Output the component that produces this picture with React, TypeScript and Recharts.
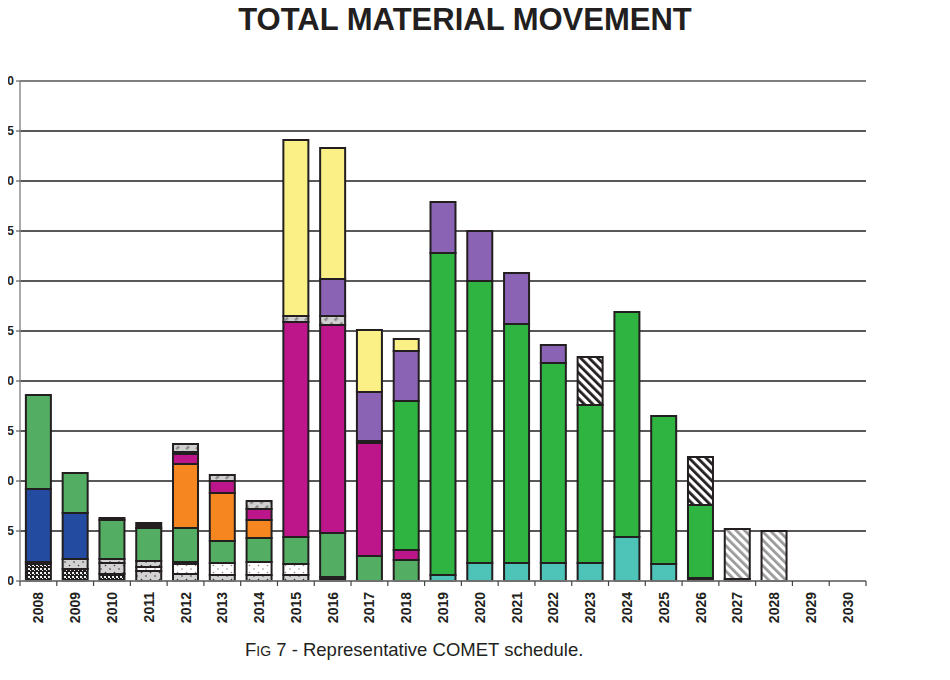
import React from 'react';
import { BarChart, Bar, XAxis, YAxis, CartesianGrid, ReferenceLine } from 'recharts';

const years = [
  '2008', '2009', '2010', '2011', '2012', '2013', '2014', '2015', '2016', '2017', '2018', '2019',
  '2020', '2021', '2022', '2023', '2024', '2025', '2026', '2027', '2028', '2029', '2030',
];

// stack segments, bottom to top, one value per year
const darkLow = [0, 0, 0, 0, 0, 0, 0, 0, 0.4, 0, 0, 0, 0, 0, 0, 0, 0, 0, 0.3, 0.2, 0, 0, 0];
const checker = [1.7, 1.2, 0.7, 0, 0, 0, 0, 0, 0, 0, 0, 0, 0, 0, 0, 0, 0, 0, 0, 0, 0, 0, 0];
const grayA = [0, 1.0, 1.1, 1.0, 0.7, 0.6, 0.6, 0.6, 0, 0, 0, 0, 0, 0, 0, 0, 0, 0, 0, 0, 0, 0, 0];
const whiteDots = [0, 0, 0, 0.4, 1.0, 1.2, 1.3, 1.1, 0, 0, 0, 0, 0, 0, 0, 0, 0, 0, 0, 0, 0, 0, 0];
const grayC = [0.2, 0, 0.4, 0.6, 0.2, 0, 0, 0, 0, 0, 0, 0, 0, 0, 0, 0, 0, 0, 0, 0, 0, 0, 0];
const teal = [0, 0, 0, 0, 0, 0, 0, 0, 0, 0, 0, 0.6, 1.8, 1.8, 1.8, 1.8, 4.4, 1.7, 0, 0, 0, 0, 0];
const blue = [7.3, 4.6, 0, 0, 0, 0, 0, 0, 0, 0, 0, 0, 0, 0, 0, 0, 0, 0, 0, 0, 0, 0, 0];
const midGreen = [9.4, 4.0, 3.9, 3.3, 3.4, 2.2, 2.4, 2.7, 4.4, 2.5, 2.1, 0, 0, 0, 0, 0, 0, 0, 0, 0, 0, 0, 0];
const orange = [0, 0, 0, 0, 6.4, 4.8, 1.8, 0, 0, 0, 0, 0, 0, 0, 0, 0, 0, 0, 0, 0, 0, 0, 0];
const magenta = [0, 0, 0, 0, 1.0, 1.2, 1.1, 21.5, 20.8, 11.3, 1.0, 0, 0, 0, 0, 0, 0, 0, 0, 0, 0, 0, 0];
const darkMid = [0, 0, 0.2, 0.5, 0.2, 0, 0, 0, 0, 0.2, 0, 0, 0, 0, 0, 0, 0, 0, 0, 0, 0, 0, 0];
const grayHatch = [0, 0, 0, 0, 0.8, 0.6, 0.8, 0.6, 0.9, 0, 0, 0, 0, 0, 0, 0, 0, 0, 0, 0, 0, 0, 0];
const green = [0, 0, 0, 0, 0, 0, 0, 0, 0, 0, 14.9, 32.2, 28.2, 23.9, 20.0, 15.8, 22.5, 14.8, 7.3, 0, 0, 0, 0];
const blackHatch = [0, 0, 0, 0, 0, 0, 0, 0, 0, 0, 0, 0, 0, 0, 0, 4.8, 0, 0, 4.8, 0, 0, 0, 0];
const purple = [0, 0, 0, 0, 0, 0, 0, 0, 3.7, 4.9, 5.0, 5.1, 5.0, 5.1, 1.8, 0, 0, 0, 0, 0, 0, 0, 0];
const yellow = [0, 0, 0, 0, 0, 0, 0, 17.6, 13.1, 6.2, 1.2, 0, 0, 0, 0, 0, 0, 0, 0, 0, 0, 0, 0];
const lightHatch = [0, 0, 0, 0, 0, 0, 0, 0, 0, 0, 0, 0, 0, 0, 0, 0, 0, 0, 0, 5.0, 5.0, 0, 0];

const yTicks = [0, 5, 10, 15, 20, 25, 30, 35, 40, 45, 50];

const series: [string, number[], string][] = [
  ['darkLow', darkLow, '#231F20'],
  ['checker', checker, 'url(#checker)'],
  ['grayA', grayA, 'url(#grayDots)'],
  ['whiteDots', whiteDots, 'url(#whiteDots)'],
  ['grayC', grayC, 'url(#grayDots)'],
  ['teal', teal, '#4EC3B8'],
  ['blue', blue, '#234B9F'],
  ['midGreen', midGreen, '#53AE63'],
  ['orange', orange, '#F6861F'],
  ['magenta', magenta, '#BD168B'],
  ['darkMid', darkMid, '#231F20'],
  ['grayHatch', grayHatch, 'url(#grayHatch)'],
  ['green', green, '#2FB441'],
  ['blackHatch', blackHatch, 'url(#blackHatch)'],
  ['purple', purple, '#8A63B5'],
  ['yellow', yellow, '#FBF085'],
  ['lightHatch', lightHatch, 'url(#lightHatch)'],
];

const data = years.map((year, i) => {
  const row: Record<string, string | number> = { year };
  series.forEach(([key, values]) => {
    row[key] = values[i];
  });
  return row;
});

const FONT = '"Liberation Sans", Arial, Helvetica, sans-serif';
const INK = '#231F20';
const FRAME = '#8C8C8C';
const PLOT_LEFT = 20;
const PLOT_RIGHT = 866;
const PLOT_TOP = 81;
const PLOT_BOTTOM = 581;
const BAND = (PLOT_RIGHT - PLOT_LEFT) / years.length;

const YearTick = (props: any) => {
  const { x, payload } = props;
  const last = payload.value === years[years.length - 1];
  return (
    <g>
      <line x1={x - BAND / 2} x2={x - BAND / 2} y1={PLOT_BOTTOM} y2={PLOT_BOTTOM + 5} stroke="#444" strokeWidth={1.2} />
      {last && (
        <line x1={x + BAND / 2} x2={x + BAND / 2} y1={PLOT_BOTTOM} y2={PLOT_BOTTOM + 5} stroke="#444" strokeWidth={1.2} />
      )}
      <text
        transform={`translate(${x},${PLOT_BOTTOM + 11}) rotate(-90)`}
        textAnchor="end"
        dy="0.36em"
        fontSize={14}
        fontWeight="bold"
        fontFamily={FONT}
        fill={INK}
      >
        {payload.value}
      </text>
    </g>
  );
};

const ValueTick = (props: any) => {
  const { y, payload } = props;
  return (
    <text x={14} y={y} dy="0.36em" textAnchor="end" fontSize={12} fontWeight="bold" fontFamily={FONT} fill={INK}>
      {payload.value}
    </text>
  );
};

export default function App() {
  return (
    <div style={{ position: 'relative', width: 950, height: 680, margin: '-8px 0 0 -8px', fontFamily: FONT, color: INK }}>
      <div
        style={{
          position: 'absolute',
          top: 4,
          left: 0,
          width: 930,
          textAlign: 'center',
          fontSize: 31,
          fontWeight: 'bold',
          lineHeight: 1,
        }}
      >
        TOTAL MATERIAL MOVEMENT
      </div>
      <div style={{ position: 'absolute', top: 0, left: 0 }}>
        <BarChart
          width={950}
          height={640}
          data={data}
          margin={{ top: PLOT_TOP, right: 950 - PLOT_RIGHT, bottom: 9, left: 0 }}
          barCategoryGap="16%"
          style={{ overflow: 'visible' }}
        >
          <defs>
            <pattern id="checker" width={4} height={4} patternUnits="userSpaceOnUse">
              <rect width={4} height={4} fill="#1E1E1E" />
              <rect x={0} y={0} width={2} height={2} fill="#F0F0F0" />
              <rect x={2} y={2} width={1} height={1} fill="#F0F0F0" />
            </pattern>
            <pattern id="grayDots" width={9} height={7} patternUnits="userSpaceOnUse">
              <rect width={9} height={7} fill="#D2D2D2" />
              <circle cx={2} cy={2} r={0.8} fill="#333" />
              <circle cx={6.5} cy={5.5} r={0.8} fill="#333" />
            </pattern>
            <pattern id="whiteDots" width={9} height={7} patternUnits="userSpaceOnUse">
              <rect width={9} height={7} fill="#FFFFFF" />
              <circle cx={2} cy={2} r={0.8} fill="#888" />
              <circle cx={6.5} cy={5.5} r={0.8} fill="#888" />
            </pattern>
            <pattern id="grayHatch" width={7} height={7} patternUnits="userSpaceOnUse" patternTransform="rotate(45)">
              <rect width={7} height={7} fill="#D0D0D0" />
              <rect x={0} y={0} width={2.5} height={4} fill="#8C8C8C" />
            </pattern>
            <pattern id="blackHatch" width={6} height={6} patternUnits="userSpaceOnUse" patternTransform="rotate(-45)">
              <rect width={6} height={6} fill="#FFFFFF" />
              <rect x={0} y={0} width={2.8} height={6} fill={INK} />
            </pattern>
            <pattern id="lightHatch" width={6} height={6} patternUnits="userSpaceOnUse" patternTransform="rotate(-45)">
              <rect width={6} height={6} fill="#FFFFFF" />
              <rect x={0} y={0} width={2.8} height={6} fill="#9A9A9A" />
            </pattern>
          </defs>
          <CartesianGrid vertical={false} stroke={INK} strokeWidth={1.3} />
          <XAxis
            dataKey="year"
            interval={0}
            height={50}
            tickLine={false}
            axisLine={{ stroke: FRAME, strokeWidth: 1.5 }}
            tick={(p: any) => <YearTick {...p} />}
          />
          <YAxis
            domain={[0, 50]}
            ticks={yTicks}
            interval={0}
            width={PLOT_LEFT}
            tickSize={4}
            tickLine={{ stroke: '#444' }}
            axisLine={{ stroke: FRAME, strokeWidth: 1.5 }}
            tick={(p: any) => <ValueTick {...p} />}
          />
          <YAxis
            yAxisId="frame"
            orientation="right"
            domain={[0, 50]}
            width={0}
            tick={false}
            tickLine={false}
            axisLine={{ stroke: FRAME, strokeWidth: 2 }}
          />
          {series.map(([key, , fill]) => (
            <Bar
              key={key}
              dataKey={key}
              stackId="total"
              fill={fill}
              stroke={INK}
              strokeWidth={2}
              isAnimationActive={false}
            />
          ))}
          <ReferenceLine y={50} stroke={FRAME} strokeWidth={1.5} />
        </BarChart>
      </div>
      <div style={{ position: 'absolute', top: 641, left: 245, fontSize: 18.5, lineHeight: 1, whiteSpace: 'nowrap' }}>
        F<span style={{ fontSize: 14 }}>IG</span> 7 - Representative COMET schedule.
      </div>
    </div>
  );
}
